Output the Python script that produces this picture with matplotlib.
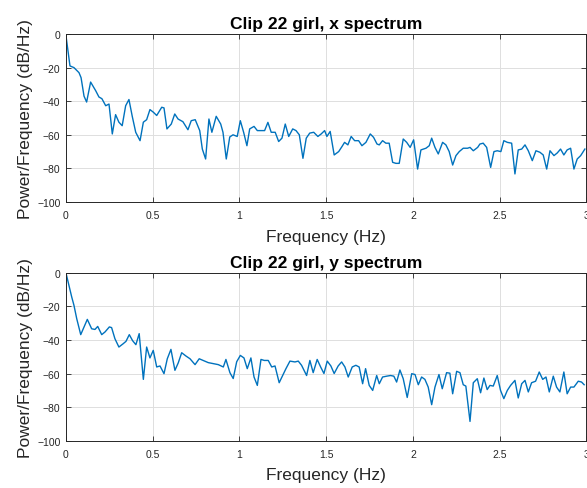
"""
## Two-panel power spectral density plot of clip 22 (x and y spectrum).
"""

import numpy as np
import matplotlib
matplotlib.use('Agg')
import matplotlib.pyplot as plt

## Frequency (Hz) and PSD (dB/Hz).
freq_x = [0.000, 0.023, 0.046, 0.075, 0.087, 0.104, 0.119, 0.142, 0.171, 0.190,
          0.207, 0.229, 0.248, 0.267, 0.286, 0.305, 0.324, 0.344, 0.363, 0.382,
          0.402, 0.427, 0.446, 0.465, 0.484, 0.503, 0.523, 0.552, 0.565, 0.582,
          0.607, 0.627, 0.646, 0.674, 0.703, 0.722, 0.745, 0.771, 0.786, 0.805,
          0.824, 0.841, 0.866, 0.892, 0.905, 0.924, 0.944, 0.963, 0.987, 1.005,
          1.024, 1.043, 1.059, 1.084, 1.103, 1.145, 1.164, 1.183, 1.206, 1.226,
          1.245, 1.264, 1.284, 1.307, 1.326, 1.345, 1.366, 1.385, 1.405, 1.428,
          1.452, 1.471, 1.491, 1.504, 1.523, 1.546, 1.572, 1.591, 1.606, 1.625,
          1.644, 1.664, 1.687, 1.706, 1.729, 1.754, 1.773, 1.793, 1.806, 1.825,
          1.844, 1.863, 1.883, 1.902, 1.921, 1.944, 1.964, 1.984, 2.004, 2.027,
          2.046, 2.075, 2.094, 2.108, 2.127, 2.146, 2.171, 2.190, 2.209, 2.229,
          2.248, 2.267, 2.290, 2.315, 2.329, 2.348, 2.373, 2.386, 2.405, 2.425,
          2.448, 2.467, 2.486, 2.507, 2.524, 2.544, 2.569, 2.588, 2.607, 2.627,
          2.646, 2.665, 2.688, 2.709, 2.732, 2.751, 2.771, 2.790, 2.813, 2.832,
          2.851, 2.870, 2.889, 2.909, 2.928, 2.947, 2.967, 2.991]
psd_x = [-1.0, -19.0, -20.0, -23.0, -26.0, -37.0, -40.5, -28.6, -33.7, -37.5,
         -38.5, -42.7, -41.7, -59.5, -48.0, -52.5, -54.6, -42.7, -39.0, -49.0,
         -58.5, -63.5, -52.5, -51.0, -45.0, -46.5, -48.5, -43.6, -44.0, -56.5,
         -53.6, -47.6, -50.6, -52.2, -57.0, -51.6, -51.0, -57.5, -68.5, -74.4,
         -50.6, -58.5, -49.0, -53.6, -58.5, -74.4, -61.3, -60.0, -61.0, -51.6,
         -58.5, -66.5, -56.5, -55.0, -57.5, -57.5, -52.6, -58.5, -58.5, -64.0,
         -62.0, -53.6, -61.0, -56.5, -57.5, -60.0, -74.0, -62.0, -59.0, -58.5,
         -61.0, -59.5, -57.5, -61.0, -58.0, -72.0, -70.0, -67.0, -64.5, -66.0,
         -61.0, -63.5, -63.5, -66.5, -64.5, -59.5, -61.5, -65.5, -66.0, -63.5,
         -65.0, -65.0, -76.4, -77.0, -77.0, -62.5, -64.5, -67.5, -63.0, -80.4,
         -69.0, -68.0, -66.5, -62.0, -67.5, -71.4, -64.5, -66.0, -70.0, -78.0,
         -72.4, -70.0, -68.0, -68.0, -67.5, -69.5, -67.5, -65.5, -65.0, -67.5,
         -79.4, -70.0, -69.5, -70.0, -63.5, -64.5, -65.0, -83.3, -69.0, -68.5,
         -66.0, -69.5, -75.4, -69.5, -70.4, -72.0, -80.4, -69.5, -72.4, -70.8,
         -68.5, -72.0, -69.0, -68.0, -80.4, -74.4, -72.4, -68.5]

## Frequency (Hz) and PSD (dB/Hz).
freq_y = [0.000, 0.019, 0.033, 0.046, 0.062, 0.085, 0.104, 0.123, 0.148, 0.167,
          0.183, 0.206, 0.225, 0.250, 0.263, 0.282, 0.305, 0.330, 0.346, 0.365,
          0.384, 0.403, 0.422, 0.446, 0.465, 0.484, 0.503, 0.523, 0.542, 0.565,
          0.584, 0.605, 0.628, 0.647, 0.667, 0.692, 0.715, 0.744, 0.768, 0.791,
          0.820, 0.849, 0.878, 0.907, 0.922, 0.945, 0.964, 0.984, 1.005, 1.026,
          1.045, 1.066, 1.084, 1.103, 1.124, 1.143, 1.166, 1.186, 1.205, 1.229,
          1.249, 1.268, 1.291, 1.320, 1.339, 1.358, 1.387, 1.406, 1.425, 1.448,
          1.468, 1.487, 1.506, 1.527, 1.546, 1.569, 1.589, 1.608, 1.627, 1.650,
          1.671, 1.690, 1.710, 1.727, 1.748, 1.768, 1.791, 1.806, 1.825, 1.848,
          1.871, 1.890, 1.906, 1.925, 1.944, 1.967, 1.993, 2.012, 2.031, 2.050,
          2.069, 2.088, 2.108, 2.127, 2.150, 2.169, 2.194, 2.213, 2.229, 2.252,
          2.271, 2.290, 2.305, 2.329, 2.348, 2.371, 2.390, 2.409, 2.428, 2.444,
          2.463, 2.486, 2.505, 2.524, 2.544, 2.563, 2.588, 2.607, 2.627, 2.646,
          2.665, 2.684, 2.707, 2.728, 2.748, 2.767, 2.786, 2.809, 2.828, 2.847,
          2.870, 2.889, 2.909, 2.928, 2.953, 2.972, 2.987]
psd_y = [0.0, -8.4, -14.3, -19.3, -27.3, -36.8, -32.2, -27.7, -33.3, -33.7,
         -31.9, -36.8, -35.2, -32.2, -32.6, -39.2, -44.2, -42.2, -40.8, -36.8,
         -40.4, -42.8, -36.2, -63.5, -44.2, -50.7, -46.2, -56.1, -55.5, -60.1,
         -51.2, -45.6, -58.1, -53.7, -47.6, -49.6, -51.2, -54.7, -51.2, -52.2,
         -53.5, -54.1, -54.7, -56.1, -51.6, -59.5, -63.0, -53.0, -49.2, -50.7,
         -57.1, -50.7, -62.1, -67.1, -51.6, -52.2, -52.2, -56.1, -55.5, -65.5,
         -61.2, -57.1, -52.6, -53.1, -52.6, -55.1, -61.2, -52.2, -59.5, -51.6,
         -56.1, -60.0, -52.6, -55.5, -60.0, -55.5, -53.1, -56.1, -62.1, -56.1,
         -55.1, -56.1, -66.1, -57.1, -67.1, -70.1, -61.2, -66.1, -62.1, -61.6,
         -61.2, -61.6, -65.1, -57.9, -63.1, -74.3, -60.1, -60.6, -66.7, -62.1,
         -63.5, -68.1, -78.6, -68.1, -60.6, -69.1, -59.5, -59.8, -72.1, -58.7,
         -59.5, -66.7, -67.5, -88.6, -65.5, -63.1, -71.5, -62.7, -69.6, -67.1,
         -67.5, -61.2, -70.1, -75.0, -70.1, -67.1, -64.1, -74.6, -66.1, -64.1,
         -71.0, -65.5, -64.6, -59.1, -63.5, -62.1, -71.0, -61.6, -68.1, -71.0,
         -59.1, -72.1, -68.1, -68.1, -64.6, -65.1, -66.7]

titles = ['Clip 22 girl, x spectrum', 'Clip 22 girl, y spectrum']
xticks = [0, 0.5, 1, 1.5, 2, 2.5, 3]
xtick_labels = ['0', '0.5', '1', '1.5', '2', '2.5', '3']
yticks = [-100, -80, -60, -40, -20, 0]

## MATLAB-like look.
plt.rcParams['font.family'] = ['Liberation Sans', 'DejaVu Sans']
line_col = '#0072BD'

fig = plt.figure(figsize=(5.87, 4.89), dpi=100)

## Axes positions in figure fractions: [left, bottom, width, height].
panels = [(freq_x, psd_x, [0.1124, 0.5849, 0.8866, 0.3435]),
          (freq_y, psd_y, [0.1124, 0.0971, 0.8866, 0.3426])]

for (fq, pd, pos), ttl in zip(panels, titles):
    ax = fig.add_axes(pos)
    ax.plot(fq, pd, color=line_col, lw=1.0)
    ax.set_xlim(0, 3)
    ax.set_ylim(-100, 0)
    ax.set_xticks(xticks)
    ax.set_xticklabels(xtick_labels)
    ax.set_yticks(yticks)
    ax.grid(True, color='#dedede', lw=0.7)
    ax.set_axisbelow(True)
    ax.tick_params(direction='in', top=True, right=True, length=3.5,
                   width=0.6, labelsize=7.5, pad=4, colors='#262626')
    ax.tick_params(axis='x', pad=6)
    for sp in ax.spines.values():
        sp.set_color('#262626')
        sp.set_linewidth(0.7)
    ax.set_title(ttl, fontsize=12.5, fontweight='bold', pad=4, color='black')
    ax.set_xlabel('Frequency (Hz)', fontsize=12.5, color='#262626', labelpad=6)
    ax.set_ylabel('Power/Frequency (dB/Hz)', fontsize=12.5, color='#262626',
                  labelpad=3)

fig.savefig('out.png', dpi=100, facecolor='w')
